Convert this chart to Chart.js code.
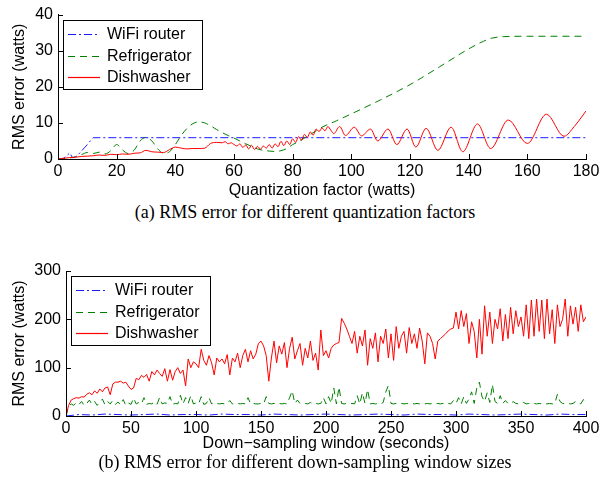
<!DOCTYPE html>
<html lang="en">
<head>
<meta charset="UTF-8">
<title>RMS error</title>
<script src="https://cdn.jsdelivr.net/npm/chart.js"></script>
<style>
    body {
        margin: 0;
        background: #fff;
        width: 610px;
        height: 493px;
        position: relative;
        overflow: hidden;
    }

    .chart-box {
        position: absolute;
        left: 0;
        width: 610px;
    }

    #boxA { top: 0; height: 202px; }
    #boxB { top: 250px; height: 206px; }

    .caption {
        position: absolute;
        left: 0;
        width: 610px;
        text-align: center;
        font-family: 'Liberation Serif', 'Times New Roman', serif;
        font-size: 18px;
        line-height: 20px;
        color: #000;
    }
</style>
</head>
<body>
    <div class="chart-box" id="boxA"><canvas id="quantChart" width="610" height="202"></canvas></div>
    <div class="caption" style="top:202px">(a) RMS error for different quantization factors</div>

    <div class="chart-box" id="boxB"><canvas id="windowChart" width="610" height="206"></canvas></div>
    <div class="caption" style="top:452px">(b) RMS error for different down-sampling window sizes</div>

<script>
// ---- (a) quantization factor ----
const quantXTicks = [0, 20, 40, 60, 80, 100, 120, 140, 160, 180];
const quantYTicks = [0, 10, 20, 30, 40];

const wifiQ = [0, 1, 2, 3, 4, 5, 6, 7, 8, 9, 10, 11, 12, 180];
const wifiQErr = [0, 0.1, 0.2, 0.9, 1.7, 0.3, 0.6, 1.3, 2.2, 3.1, 4.0, 5.0, 5.9, 5.9];

const fridgeQ = [0, 2, 4, 6, 8, 10, 12, 14, 16, 18, 20, 22, 24, 26, 28, 30, 32, 34, 36, 38,
    40, 42, 44, 46, 48, 50, 52, 54, 56, 58, 60, 62, 64, 66, 68, 70, 72, 74, 76, 78,
    80, 82, 84, 86, 88, 90, 95, 100, 110, 120, 130, 140, 145, 148, 152, 160, 180];
const fridgeQErr = [0, 0.1, 0.3, 0.6, 1.2, 1.8, 1.5, 1.9, 1.4, 2.3, 4.0, 2.5, 1.5, 2.5, 5.0, 6.0, 5.0, 2.8, 1.6, 2.0,
    4.0, 6.5, 8.5, 9.8, 10.3, 10.0, 9.2, 8.2, 7.3, 6.5, 5.8, 5.0, 4.2, 3.5, 2.8, 2.4, 2.2, 2.1, 2.3, 2.9,
    4.0, 4.8, 5.8, 6.8, 7.8, 8.8, 10.6, 12.5, 16.4, 20.6, 25.5, 30.5, 32.6, 33.5, 33.9, 34.0, 34.0];

const dishQ = [0, 2, 4, 6, 8, 10, 12, 14, 16, 18, 20, 22, 24, 26, 28, 30, 32, 34, 36, 38,
    40, 42, 44, 46, 48, 50, 52, 54, 56, 57, 58, 59, 60, 61, 62, 63, 64, 65, 66,
    67, 68, 69, 70, 71, 72, 73, 74, 75, 76, 77, 78, 79, 80, 81, 82, 83, 84, 85, 86,
    87, 88, 89, 90, 91, 92, 93, 94, 96, 98, 101, 103.5, 106.5, 109, 112.5, 115.5, 119, 122,
    125.5, 129.5, 134, 138, 143, 147.5, 153.5, 160, 166.5, 172.5, 176, 180];
const dishQErr = [0, 0.2, 0.4, 0.5, 0.7, 0.8, 0.9, 1.1, 1.0, 1.3, 1.2, 1.4, 1.3, 1.6, 1.7, 2.4, 2.0, 1.9, 1.8, 2.6,
    3.3, 3.0, 2.8, 2.9, 2.9, 3.0, 4.3, 4.6, 4.5, 4.8, 4.2, 4.5, 4.0, 3.6, 4.2, 3.2, 3.9, 2.8, 3.8,
    2.6, 3.5, 2.7, 3.6, 3.0, 4.0, 3.0, 4.2, 3.4, 4.9, 3.7, 5.0, 4.0, 5.6, 4.6, 6.2, 5.2, 6.8, 6.0, 7.5,
    6.6, 8.3, 7.6, 8.6, 7.8, 9.0, 8.0, 7.0, 9.0, 6.5, 8.8, 6.4, 8.3, 5.0, 8.3, 4.0, 8.3, 3.3,
    8.5, 2.4, 8.8, 2.0, 9.7, 2.9, 10.8, 4.3, 12.4, 6.3, 9.0, 13.3];

// ---- (b) down-sampling window ----
const windowXTicks = [0, 50, 100, 150, 200, 250, 300, 350, 400];
const windowYTicks = [0, 100, 200, 300];

// sampling grids (seconds)
const winSec = [];
for (let s = 0; s <= 400; s += 2) winSec.push(s);
const wifiSec = [];
for (let s = 0; s <= 400; s += 10) wifiSec.push(s);

const wifiWErr = [0, 3, 2, 4, 3, 2, 3, 4, 2, 3, 3, 2, 4, 3, 3, 2, 4, 3, 2, 3,
    4, 3, 2, 3, 4, 3, 2, 4, 3, 3, 2, 4, 3, 2, 3, 4, 3, 2, 4, 3, 3];

const fridgeWErr = [
    0, 20, 25, 22, 28, 24, 30, 22, 26, 33,
    24, 30, 22, 28, 35, 23, 30, 25, 32, 24,
    29, 23, 34, 22, 27, 24, 37, 25, 28, 25,
    38, 24, 26, 25, 29, 24, 38, 25, 27, 26,
    40, 24, 26, 25, 43, 25, 38, 26, 42, 25,
    27, 25, 40, 24, 26, 38, 25, 27, 26, 25,
    26, 25, 26, 32, 25, 25, 26, 25, 26, 25,
    38, 25, 26, 25, 25, 26, 25, 40, 26, 25,
    26, 25, 26, 25, 26, 25, 38, 52, 26, 33,
    26, 25, 26, 25, 28, 25, 26, 25, 26, 38,
    25, 40, 26, 58, 25, 60, 26, 25, 26, 25,
    26, 25, 42, 25, 48, 26, 55, 25, 26, 25,
    26, 25, 28, 50, 63, 26, 25, 26, 25, 26,
    25, 26, 25, 26, 25, 26, 25, 26, 25, 26,
    25, 26, 25, 26, 25, 26, 25, 26, 25, 32,
    26, 38, 25, 40, 26, 35, 50, 26, 58, 70,
    40, 30, 48, 28, 65, 30, 26, 42, 26, 32,
    26, 25, 30, 26, 25, 26, 28, 25, 26, 25,
    26, 25, 26, 25, 26, 25, 26, 25, 26, 45,
    30, 26, 25, 26, 25, 26, 30, 26, 25, 34,
    30];

const dishWErr = [
    0, 22, 33, 36, 38, 37, 40, 39, 45, 48,
    44, 52, 47, 56, 50, 58, 60, 44, 66, 70,
    70, 72, 68, 70, 62, 55, 58, 78, 75, 84,
    80, 86, 72, 92, 85, 95, 88, 82, 98, 72,
    96, 74, 92, 100, 88, 95, 62, 118, 100, 112,
    108, 100, 138, 115, 105, 125, 110, 85, 120, 112,
    118, 108, 127, 85, 120, 112, 130, 100, 125, 138,
    112, 135, 118, 128, 150, 155, 145, 125, 72, 120,
    155, 110, 145, 128, 152, 100, 140, 163, 118, 135,
    150, 105, 140, 120, 155, 115, 130, 95, 178, 125,
    135, 120, 140, 147, 150, 152, 202, 192, 180, 165,
    150, 175, 130, 165, 145, 178, 105, 160, 140, 172,
    112, 165, 150, 180, 120, 170, 115, 185, 140, 165,
    175, 130, 183, 150, 170, 140, 182, 155, 108, 172,
    165, 150, 118, 155, 160, 165, 170, 176, 180, 182,
    215, 180, 218, 185, 212, 150, 195, 175, 120, 200,
    128, 228, 165, 215, 150, 200, 180, 222, 155, 210,
    160, 225, 170, 218, 185, 205, 165, 230, 160, 240,
    165, 242, 175, 240, 160, 242, 170, 220, 150, 230,
    185, 200, 242, 165, 228, 190, 225, 175, 230, 195,
    205];

const FONT = "'Liberation Sans', Arial, sans-serif";
const pts = (xs, ys) => xs.map((x, i) => ({ x: x, y: ys[i] }));

// ticks pointing into the plot
const inwardTicks = {
    id: 'inwardTicks',
    afterDatasetsDraw(chart) {
        const { ctx, chartArea: a, scales } = chart;
        ctx.save();
        ctx.strokeStyle = '#000';
        ctx.lineWidth = 1;
        ctx.beginPath();
        scales.x.ticks.forEach((t, i) => {
            const px = Math.round(scales.x.getPixelForTick(i)) + 0.5;
            ctx.moveTo(px, a.bottom);
            ctx.lineTo(px, a.bottom - 5);
        });
        scales.y.ticks.forEach((t, i) => {
            const py = Math.round(scales.y.getPixelForTick(i)) + 0.5;
            ctx.moveTo(a.left, py);
            ctx.lineTo(a.left + 5, py);
        });
        ctx.stroke();
        ctx.restore();
    }
};

// boxed legend in the upper left corner of the plot
const boxedLegend = {
    id: 'boxedLegend',
    afterDraw(chart) {
        const { ctx, chartArea: a } = chart;
        const sets = chart.data.datasets;
        ctx.save();
        ctx.font = '16px ' + FONT;
        const textW = Math.max(...sets.map(d => ctx.measureText(d.label).width));
        const x0 = Math.round(a.left + 5), y0 = Math.round(a.top + 5);
        const w = Math.round(44 + textW + 11), h = 69, rowH = 21.5;
        ctx.fillStyle = '#fff';
        ctx.fillRect(x0, y0, w, h);
        ctx.strokeStyle = '#000';
        ctx.lineWidth = 1;
        ctx.strokeRect(x0 + 0.5, y0 + 0.5, w, h);
        sets.forEach((d, i) => {
            const cy = Math.round(y0 + 14 + i * rowH) + 0.5;
            ctx.strokeStyle = d.borderColor;
            ctx.lineWidth = 1.2;
            ctx.setLineDash(d.borderDash || []);
            ctx.beginPath();
            ctx.moveTo(x0 + 5, cy);
            ctx.lineTo(x0 + 37, cy);
            ctx.stroke();
            ctx.setLineDash([]);
            ctx.fillStyle = '#000';
            ctx.textBaseline = 'middle';
            ctx.fillText(d.label, x0 + 44, cy);
        });
        ctx.restore();
    }
};

function axis(ticksList, extra) {
    return Object.assign({
        type: 'linear',
        min: ticksList[0],
        max: ticksList[ticksList.length - 1],
        afterBuildTicks: s => { s.ticks = ticksList.map(v => ({ value: v })); },
        ticks: { color: '#000', font: { family: FONT, size: 16 }, maxRotation: 0, autoSkip: false },
        grid: { drawOnChartArea: false, drawTicks: false },
        border: { color: '#000', width: 1 }
    }, extra);
}

function makeOptions(o) {
    const x = axis(o.xTicks, {
        afterFit: s => { s.height = o.xHeight; },
        title: { display: true, text: o.xTitle, color: '#000', font: { family: FONT, size: 16 }, padding: { top: 0, bottom: o.titlePad } }
    });
    x.ticks.padding = 3;
    const y = axis(o.yTicks, {
        afterFit: s => { s.width = o.yWidth; },
        title: { display: true, text: 'RMS error (watts)', color: '#000', font: { family: FONT, size: 16 }, padding: { top: 10, bottom: 0 } }
    });
    y.ticks.padding = 5;
    return {
        responsive: false,
        animation: false,
        layout: { padding: { top: o.padTop, right: 24, left: 0, bottom: 0 } },
        plugins: { legend: { display: false }, tooltip: { enabled: false } },
        elements: { point: { radius: 0 } },
        scales: { x: x, y: y }
    };
}

function series(label, xs, ys, color, dash, order, smooth) {
    return {
        label: label,
        data: pts(xs, ys),
        borderColor: color,
        borderDash: dash,
        borderWidth: 1,
        fill: false,
        order: order,
        cubicInterpolationMode: smooth ? 'monotone' : 'default',
        tension: 0
    };
}

const BLUE = '#1a1aff', GREEN = '#008000', RED = '#ff0000';
const DASHDOT = [8, 3, 2, 3], DASHED = [7, 5];

new Chart(document.getElementById('quantChart'), {
    type: 'line',
    data: {
        datasets: [
            series('WiFi router', wifiQ, wifiQErr, BLUE, DASHDOT, 3, false),
            series('Refrigerator', fridgeQ, fridgeQErr, GREEN, DASHED, 2, true),
            series('Dishwasher', dishQ, dishQErr, RED, [], 1, true)
        ]
    },
    options: makeOptions({
        xTicks: quantXTicks, yTicks: quantYTicks,
        xTitle: 'Quantization factor (watts)',
        xHeight: 43, yWidth: 58, padTop: 9, titlePad: 2
    }),
    plugins: [inwardTicks, boxedLegend]
});

new Chart(document.getElementById('windowChart'), {
    type: 'line',
    data: {
        datasets: [
            series('WiFi router', wifiSec, wifiWErr, BLUE, DASHDOT, 3, false),
            series('Refrigerator', winSec, fridgeWErr, GREEN, DASHED, 2, false),
            series('Dishwasher', winSec, dishWErr, RED, [], 1, false)
        ]
    },
    options: makeOptions({
        xTicks: windowXTicks, yTicks: windowYTicks,
        xTitle: 'Down\u2212sampling window (seconds)',
        xHeight: 40, yWidth: 66, padTop: 21, titlePad: 3
    }),
    plugins: [inwardTicks, boxedLegend]
});
</script>
</body>
</html>
